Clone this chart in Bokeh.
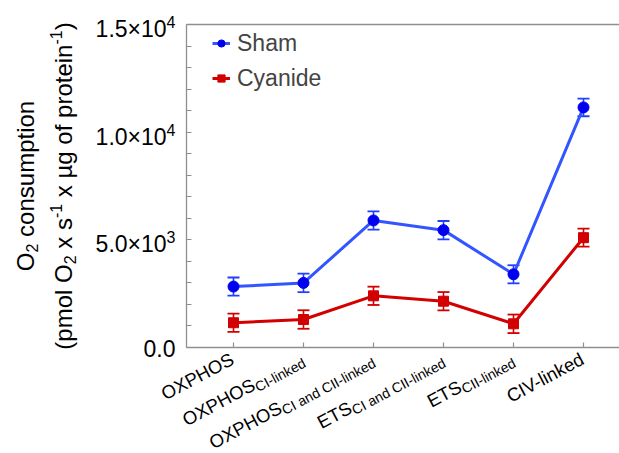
import math
from bokeh.plotting import figure
from bokeh.models import (Range1d, FixedTicker, LinearAxis, Label, Legend,
                          LegendItem, ColumnDataSource)
from bokeh.embed import file_html
from bokeh.resources import INLINE

# ---------------- data ----------------
categories_main = ["OXPHOS", "OXPHOS", "OXPHOS", "ETS", "ETS", "CIV-linked"]
categories_sub = ["", "CI-linked", "CI and CII-linked", "CI and CII-linked", "CII-linked", ""]
sham_mean = [2830, 3000, 5900, 5450, 3400, 11150]
sham_sem = [420, 430, 425, 425, 420, 410]
cyanide_mean = [1150, 1300, 2400, 2150, 1100, 5100]
cyanide_sem = [425, 430, 425, 425, 430, 420]
y_ticks = [0, 5000, 10000, 15000]
y_tick_mantissa = ["0.0", "5.0×10", "1.0×10", "1.5×10"]
y_tick_exponent = ["", "3", "4", "4"]
y_minor = [1000, 2000, 3000, 4000, 6000, 7000, 8000, 9000, 11000, 12000, 13000, 14000]
series_names = ["Sham", "Cyanide"]

# ---------------- style / layout ----------------
FONT = "Liberation Sans"
AX = "#8f8f8f"
SHAM_LINE = "#3355ff"
SHAM_MK = "#0000f0"
SHAM_ERR = "#2040ff"
CY = "#d20000"

CW, CH = 619, 453           # canvas
PL, PT, PB = 186, 24, 347   # plot-area edges in pixels (left, top, bottom)
STEP = 70.0                 # px per category
FIRST = 47.0                # px from plot-area left to first category
Y0, Y1 = 0, 15000

x0 = -FIRST / STEP
x_start = x0 - PL / STEP
x_end = x0 + (CW - PL) / STEP
ky = (PB - PT) / (Y1 - Y0)
y_start = Y0 - (CH - PB) / ky
y_end = Y1 + PT / ky

AW = {' ': 278, '(': 333, ')': 333, '-': 333, '.': 278, 'A': 667, 'C': 722, 'E': 667,
      'H': 722, 'I': 278, 'O': 778, 'P': 667, 'S': 667, 'T': 611, 'V': 667, 'X': 667,
      'a': 556, 'c': 500, 'd': 556, 'e': 556, 'f': 278, 'g': 556, 'i': 222, 'k': 500,
      'l': 222, 'm': 833, 'n': 556, 'o': 556, 'p': 556, 'r': 333, 's': 500, 't': 278,
      'u': 556, 'x': 500, 'µ': 576, '×': 584}
BASE_FIX = 0.3   # em: lift applied so that the anchor is the true alphabetic baseline


def tw(s, size):
    return sum(AW.get(ch, 556) for ch in s) * size / 1000.0


p = figure(width=CW, height=CH, output_backend="svg", toolbar_location=None,
           x_range=Range1d(x_start, x_end), y_range=Range1d(y_start, y_end),
           min_border=0, min_border_left=0, min_border_right=0,
           min_border_top=0, min_border_bottom=0)
p.grid.visible = False
p.outline_line_color = None


def add_text(x, y, text, size, angle, align, dx, dy):
    """dx: px right, dy: px down (screen), anchor = alphabetic baseline point."""
    sn, cs = math.sin(angle), math.cos(angle)
    fx = dx - BASE_FIX * size * sn
    fy = dy - BASE_FIX * size * cs
    p.add_layout(Label(x=x, y=y, text=text, angle=angle, text_align=align,
                       text_baseline="alphabetic", x_offset=fx, y_offset=-fy,
                       text_font=FONT, text_font_size=f"{size}px", text_color="black"))


# axes (drawn at fixed data locations inside the canvas); ticks as label-free minor ticks
p.yaxis.fixed_location = x0
p.yaxis.bounds = (Y0, Y1)
p.xaxis.fixed_location = Y0
p.xaxis.bounds = (x0, x_end)
p.yaxis.ticker = FixedTicker(ticks=[], minor_ticks=sorted(y_ticks + y_minor))
p.xaxis.ticker = FixedTicker(ticks=[], minor_ticks=list(range(len(categories_main))))
for ax in (p.yaxis[0], p.xaxis[0]):
    ax.axis_line_color = AX
    ax.axis_line_width = 1.3
    ax.major_tick_line_color = None
    ax.minor_tick_line_color = AX
    ax.minor_tick_line_width = 1.2
    ax.minor_tick_in = 5
    ax.minor_tick_out = 0

top = LinearAxis(ticker=FixedTicker(ticks=[]), axis_line_color=AX, axis_line_width=1.3,
                 major_tick_line_color=None, minor_tick_line_color=None,
                 fixed_location=Y1, bounds=(x0, x_end))
p.add_layout(top, "above")

# y tick labels (mantissa + raised exponent)
TF, EF = 23, 16
for t, mnt, ex in zip(y_ticks, y_tick_mantissa, y_tick_exponent):
    ew = tw(ex, EF)
    dy = 3 if ex else 0
    base_dy = 0.358 * TF + dy
    add_text(x0, t, mnt, TF, 0, "right", -11 - ew, base_dy)
    if ex:
        add_text(x0, t, ex, EF, 0, "left", -11 - ew, base_dy - 9)

# ---------------- series ----------------
xs = list(range(len(sham_mean)))
src = ColumnDataSource(dict(
    x=xs,
    sham=sham_mean,
    sham_lo=[m - e for m, e in zip(sham_mean, sham_sem)],
    sham_hi=[m + e for m, e in zip(sham_mean, sham_sem)],
    cy=cyanide_mean,
    cy_lo=[m - e for m, e in zip(cyanide_mean, cyanide_sem)],
    cy_hi=[m + e for m, e in zip(cyanide_mean, cyanide_sem)],
))

renderers = {}
for key, lc, mc, ec, marker, msize in [("sham", SHAM_LINE, SHAM_MK, SHAM_ERR, "circle", 11),
                                       ("cy", CY, CY, CY, "square", 10)]:
    p.segment(x0="x", y0=key + "_lo", x1="x", y1=key + "_hi", source=src,
              line_color=ec, line_width=1.6)
    p.scatter(x="x", y=key + "_lo", source=src, marker="dash", size=12,
              line_color=ec, line_width=1.8)
    p.scatter(x="x", y=key + "_hi", source=src, marker="dash", size=12,
              line_color=ec, line_width=1.8)
    lr = p.line(x="x", y=key, source=src, line_color=lc, line_width=3)
    mr = p.scatter(x="x", y=key, source=src, marker=marker, size=msize,
                   fill_color=mc, line_color=mc)
    renderers[key] = (lr, mr)

legend = Legend(items=[LegendItem(label=series_names[0], renderers=list(renderers["sham"])),
                       LegendItem(label=series_names[1], renderers=list(renderers["cy"]))],
                location=(212, 360), padding=0, margin=0, spacing=5,
                glyph_width=18, glyph_height=30, label_height=30, label_standoff=7,
                label_text_font=FONT, label_text_font_size="23px",
                border_line_color=None, background_fill_alpha=0)
p.add_layout(legend)

# ---------------- category labels (with subscripts) ----------------
TH = math.radians(28)
c, s_ = math.cos(TH), math.sin(TH)
MAIN_FS, SUB_FS = 18.5, 14
QX, QY = 1.5, 15.0
DROP = 3.5
for i, (m, sb) in enumerate(zip(categories_main, categories_sub)):
    ws = tw(sb, SUB_FS) if sb else 0.0
    px = QX - ws * c
    py = QY + ws * s_
    add_text(i, Y0, m, MAIN_FS, TH, "right", px, py)
    if sb:
        add_text(i, Y0, sb, SUB_FS, TH, "left", px + DROP * s_, py + DROP * c)

# ---------------- y axis title (two lines, with sub/superscripts) ----------------
YF, YS = 24, 16
line1 = [("O", 0), ("2", -1), (" consumption", 0)]
line2 = [("(pmol O", 0), ("2", -1), (" x s", 0), ("-1", 1), (" x µg of protein", 0), ("-1", 1), (")", 0)]
ymid = (Y0 + Y1) / 2
for pieces, base in [(line1, -154), (line2, -116)]:
    widths = [tw(t, YF if k == 0 else YS) for t, k in pieces]
    L = sum(widths)
    cum = -L / 2
    for (t, k), w in zip(pieces, widths):
        size = YF if k == 0 else YS
        lead = len(t) - len(t.lstrip(" "))
        shift = 0 if k == 0 else (4 if k < 0 else -10)
        # rotated 90deg: "down" in text frame is screen-right; advance is screen-up
        add_text(x0, ymid, t.strip(" "), size, math.pi / 2, "left",
                 base + shift, -(cum + tw(" " * lead, size)))
        cum += w

open("out.html", "w").write(file_html(p, INLINE))
